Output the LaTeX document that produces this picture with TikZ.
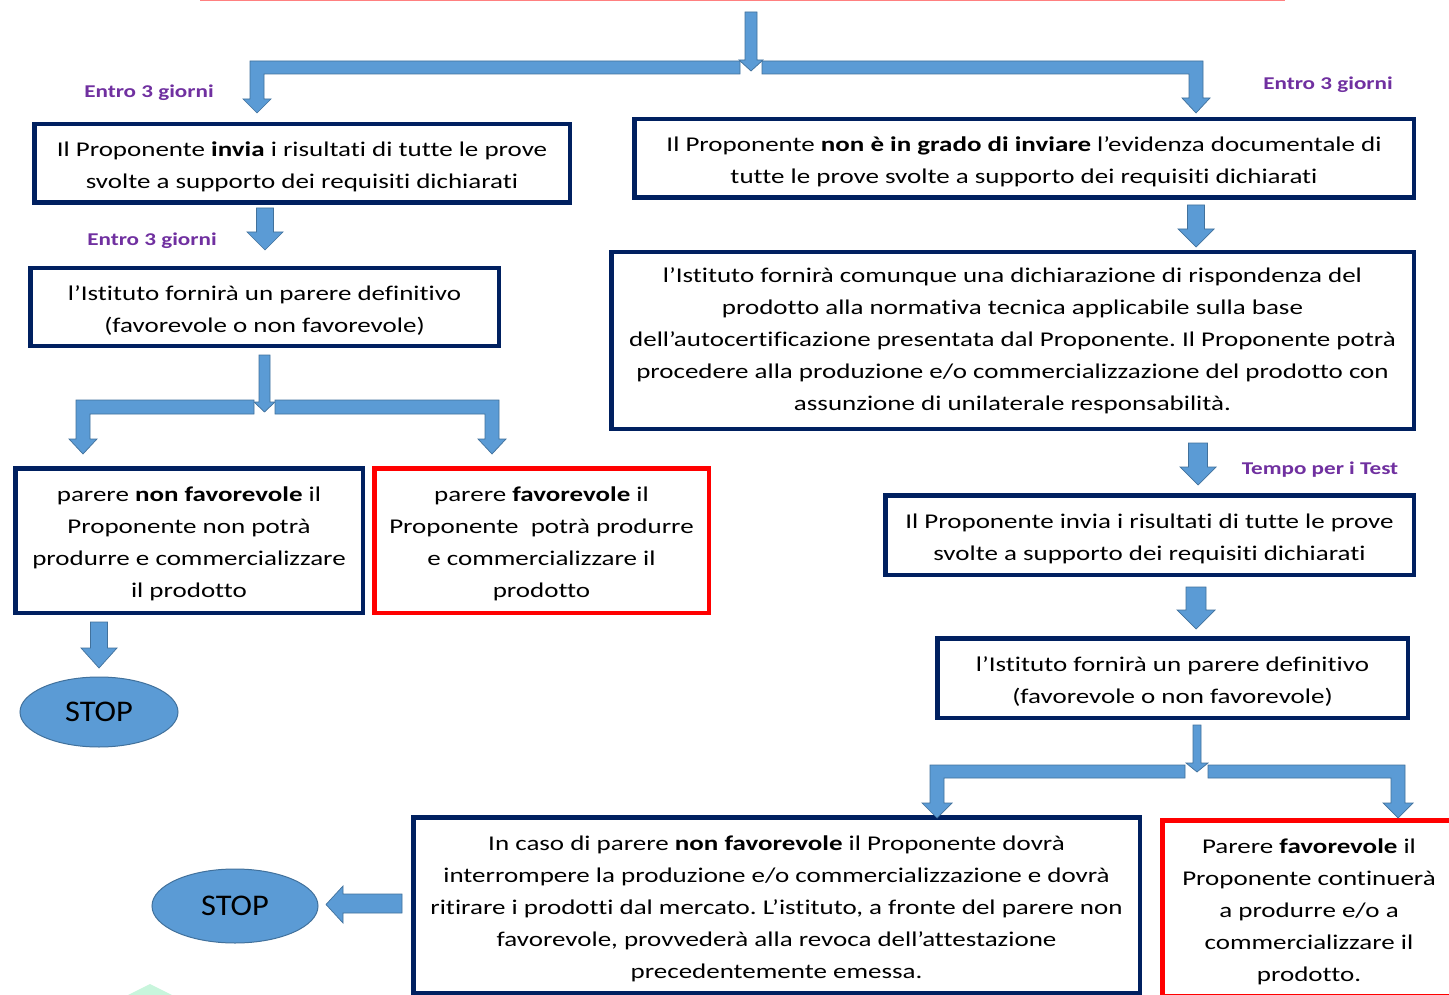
\documentclass[tikz,border=0pt]{standalone}
\usepackage{fontspec}
\setmainfont{Carlito}[FakeStretch=1.285, Ligatures={NoCommon,NoContextual}]
\newfontfamily\stopfont{Carlito}[FakeStretch=1.08]
\usetikzlibrary{shapes.geometric}
\definecolor{navy}{HTML}{002060}
\definecolor{arrfill}{HTML}{5B9BD5}
\definecolor{arrline}{HTML}{41719C}
\definecolor{lbl}{HTML}{7030A0}
\definecolor{redbox}{HTML}{FF0000}
\definecolor{pinkline}{HTML}{FF8080}
\definecolor{mint}{HTML}{C8F5DC}
\frenchspacing
\newcommand\fs{\rule{0pt}{22pt}}
\tikzset{
 box/.style={draw=navy, line width=4.5pt, inner sep=0pt, align=center, font=\fontsize{21}{32}\selectfont, text=black},
 redb/.style={box, draw=redbox},
 blk/.style={fill=arrfill, draw=arrline, line width=0.7pt, line join=miter},
 lab/.style={text=lbl, inner sep=0pt, font=\bfseries\fontsize{18}{20}\selectfont},
 stopn/.style={ellipse, fill=arrfill, draw=arrline, line width=1pt, font=\stopfont\fontsize{30}{32}\selectfont, inner sep=0pt}
}
\newcommand\blkdn[6]{\draw[blk] ({#1-#4/2},#2) -- ({#1+#4/2},#2) -- ({#1+#4/2},{#3-#6}) -- ({#1+#5/2},{#3-#6}) -- (#1,#3) -- ({#1-#5/2},{#3-#6}) -- ({#1-#4/2},{#3-#6}) -- cycle;}
\begin{document}
\begin{tikzpicture}[x=1pt,y=-1pt]
\useasboundingbox (0,0) rectangle (1449,995);
\clip (0,0) rectangle (1449,995);
\fill[white] (0,0) rectangle (1449,995);
% top line remnant
\draw[pinkline, line width=2pt] (200,0.5) -- (1285,0.5);
\fill[mint] (128,995) -- (150,984) -- (172,995) -- cycle;

% boxes
\node[box, minimum width=535.5pt, minimum height=78.5pt] (A) at (302,163.5)
 {\fs Il Proponente \textbf{invia} i risultati di tutte le prove\\svolte a supporto dei requisiti dichiarati};
\node[box, minimum width=779.5pt, minimum height=78.5pt] (B) at (1024,158.5)
 {\fs Il Proponente \textbf{non è in grado di inviare} l’evidenza documentale di\\tutte le prove svolte a supporto dei requisiti dichiarati};
\node[box, minimum width=468.5pt, minimum height=77.5pt] (C) at (264.5,307)
 {\fs l’Istituto fornirà un parere definitivo\\(favorevole o non favorevole)};
\node[box, minimum width=802.5pt, minimum height=176.5pt] (D) at (1012.5,340.5)
 {l’Istituto fornirà comunque una dichiarazione di rispondenza del\\prodotto alla normativa tecnica applicabile sulla base\\dell’autocertificazione presentata dal Proponente. Il Proponente potrà\\procedere alla produzione e/o commercializzazione del prodotto con\\assunzione di unilaterale responsabilità.};
\node[box, minimum width=347.5pt, minimum height=144.5pt] (E) at (189,540.5)
 {\fs parere \textbf{non favorevole} il\\Proponente non potrà\\produrre e commercializzare\\il prodotto};
\node[redb, minimum width=334.5pt, minimum height=144.5pt] (F) at (541.5,540.5)
 {\fs parere \textbf{favorevole} il\\Proponente\ \ potrà produrre\\e commercializzare il\\prodotto};
\node[box, minimum width=528.5pt, minimum height=79.5pt] (G) at (1149.5,535)
 {\fs Il Proponente invia i risultati di tutte le prove\\svolte a supporto dei requisiti dichiarati};
\node[box, minimum width=470.5pt, minimum height=79.5pt] (H) at (1172.5,678)
 {\fs l’Istituto fornirà un parere definitivo\\(favorevole o non favorevole)};
\node[box, minimum width=726.5pt, minimum height=175.5pt] (I) at (776.5,905)
 {\fs In caso di parere \textbf{non favorevole} il Proponente dovrà\\interrompere la produzione e/o commercializzazione e dovrà\\ritirare i prodotti dal mercato. L’istituto, a fronte del parere non\\favorevole, provvederà alla revoca dell’attestazione\\precedentemente emessa.};
\node[redb, minimum width=293.5pt, minimum height=175.5pt] (J) at (1309,908)
 {\fs Parere \textbf{favorevole} il\\Proponente continuerà\\a produrre e/o a\\commercializzare il\\prodotto.};

% stop ellipses
\node[stopn, minimum width=158pt, minimum height=70pt] (S1) at (99,712) {STOP};
\node[stopn, minimum width=166pt, minimum height=74pt] (S2) at (235,906) {STOP};

% labels
\node[lab] (L1) at (149,93) {Entro 3 giorni};
\node[lab] (L2) at (152,241) {Entro 3 giorni};
\node[lab] (L3) at (1328,85) {Entro 3 giorni};
\node[lab] (L4) at (1320,470) {Tempo per i Test};

% block arrows
\blkdn{751}{12}{71}{12}{24}{11}
\draw[blk] (740,61) -- (250,61) -- (250,99) -- (243,99) -- (257,113) -- (271,99) -- (264,99) -- (264,74) -- (740,74) -- cycle;
\draw[blk] (762,61) -- (1203,61) -- (1203,98) -- (1210,98) -- (1196,113) -- (1182,98) -- (1189,98) -- (1189,74) -- (762,74) -- cycle;
\blkdn{265}{208}{250}{17}{36}{18}
\blkdn{1196}{205}{247}{17}{36}{18}
\blkdn{264.5}{355}{412}{11}{21}{10}
\draw[blk] (254,400) -- (76,400) -- (76,439) -- (69,439) -- (83,454) -- (97,439) -- (90,439) -- (90,414) -- (254,414) -- cycle;
\draw[blk] (275,400) -- (499,400) -- (499,439) -- (506,439) -- (492,454) -- (478,439) -- (485,439) -- (485,414) -- (275,414) -- cycle;
\blkdn{99}{622}{668}{17}{36}{20}
\blkdn{1198}{443}{485}{19}{36}{18}
\blkdn{1196}{587}{629}{20}{38}{19}
\blkdn{1197}{725}{772}{8}{22}{9}
\draw[blk] (1185,765) -- (930,765) -- (930,803) -- (922,803) -- (937,818) -- (952,803) -- (944,803) -- (944,778) -- (1185,778) -- cycle;
\draw[blk] (1208,765) -- (1405,765) -- (1405,803) -- (1413,803) -- (1398,818) -- (1383,803) -- (1391,803) -- (1391,778) -- (1208,778) -- cycle;
\draw[blk] (402,894) -- (343,894) -- (343,886) -- (326,904.5) -- (343,923) -- (343,913) -- (402,913) -- cycle;
\end{tikzpicture}
\end{document}
